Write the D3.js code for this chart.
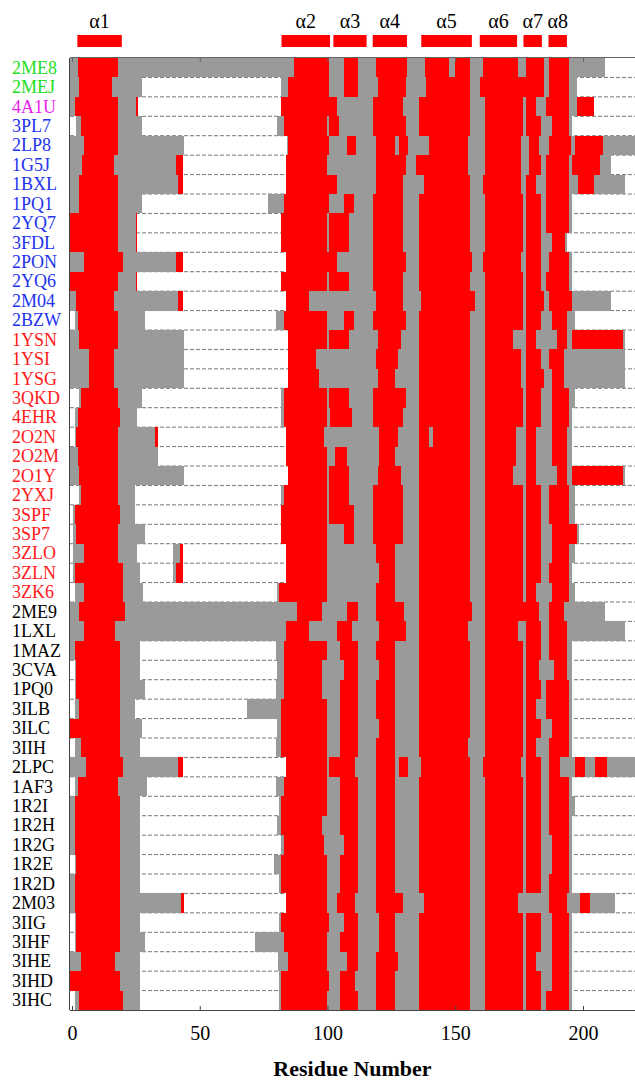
<!DOCTYPE html>
<html>
<head>
<meta charset="utf-8">
<script src="https://cdn.jsdelivr.net/npm/d3@7"></script>
<style>
body { margin: 0; background: #fff; }
svg text { font-family: "Liberation Serif", "DejaVu Serif", serif; }
</style>
</head>
<body>
<svg id="chart" width="635" height="1081"></svg>
<script>
// PDB entries, top to bottom
const pdbIds = ["2ME8","2MEJ","4A1U","3PL7","2LP8","1G5J","1BXL","1PQ1","2YQ7","3FDL",
  "2PON","2YQ6","2M04","2BZW","1YSN","1YSI","1YSG","3QKD","4EHR","2O2N",
  "2O2M","2O1Y","2YXJ","3SPF","3SP7","3ZLO","3ZLN","3ZK6","2ME9","1LXL",
  "1MAZ","3CVA","1PQ0","3ILB","3ILC","3IIH","2LPC","1AF3","1R2I","1R2H",
  "1R2G","1R2E","1R2D","2M03","3IIG","3IHF","3IHE","3IHD","3IHC"];

// label colour group of each entry (g green, m magenta, b blue, r red, k black)
const idGroups = ["g","g","m","b","b","b","b","b","b","b",
  "b","b","b","b","r","r","r","r","r","r",
  "r","r","r","r","r","r","r","r","k","k",
  "k","k","k","k","k","k","k","k","k","k",
  "k","k","k","k","k","k","k","k","k"];

// secondary structure per entry: type letter + residue where it starts
// r = helix, g = coil, w = not present; each runs until the next one
const segments = [
  "g-1 r2.5 g18 r87 g100.5 r106.5 g112 r119 g131 r138 g147.7 r149.8 g155.7 r161 g174.7 r177.8 g184.6 r186.8 g194.7 w208.7",
  "g-1 r2.9 g15.5 w27.4 g81.7 r84.7 g100.5 r106.6 g111.8 r119.7 g130.8 r138.7 g155.7 r159.6 g184.6 r186.8 g194.7 w197.6",
  "g-1 r1 g18 r25 w25.8 r81.7 g103.7 r117.7 g129.5 r135.9 g155.7 r161.7 g176.7 r177.8 g181.8 r185.7 g194.7 r197.6 w204.4",
  "w-1 g1.7 r3.6 g18 w27.4 g80.4 r82.8 g99.9 r100.6 g104.5 r117.7 g130.8 r135.9 g155.7 r161.7 g176.7 r177.8 g183.7 r187.8 g194.7 w195.5",
  "g-1 r4.8 g18 w43.7 g84 r84.7 g100.5 r107.7 g111.3 r118.8 g126.4 r128 g131.4 r139.8 g154.9 r161.7 g175.8 r179 g182.6 r186.8 g195.3 r196.8 g208",
  "g-1 r4 g16.6 r40.9 w43.5 r83.9 g99.9 r118.8 g130.8 r134.8 g154.9 r161.7 g175.8 r179 g183.7 r185.7 g194.7 r195.7 g206.6 w210.8",
  "g-1 r2.9 g18 r41.6 w43.5 r83.9 g103.7 r118.8 g129.5 r137.8 g155.7 r160.9 g175.8 r177.8 g181.8 r185.7 g194.7 r198 g204.4 w216.6",
  "g-1 r2.9 g18 w27.4 g76.8 r82.8 g100.5 r106.6 g110.5 r117.7 g129.5 r135.9 g155.7 r161.7 g176.7 r177.8 g183.7 r185.7 g194.7 w195.5",
  "r-1 g18 r25 w25.5 r81.7 g99.9 r100.7 g108.6 r117.7 g129.5 r135.9 g155.7 r161.7 g176.7 r177.8 g183.7 r185.7 g194.7 w195.5",
  "r-1 g18 r25 w25.5 r81.7 g99.9 r100.7 g108.6 r117.7 g129.5 r135.9 g155.7 r161.7 g176.7 r177.8 g183.7 r187.8 g192.9 w193.7",
  "g-1 r4.8 g19.8 r40.9 w43.5 r83.9 g103.7 r117.7 g130.8 r135.9 g156.5 r160.9 g175.8 r177.8 g183.7 r186.8 g194.7 w195.5",
  "r-1 g18 r25 w25.5 r81.7 g99.9 r100.7 g108.6 r117.7 g129.5 r135.9 g155.7 r161.7 g176.7 r177.8 g183.7 r185.7 g194.7 w195.5",
  "g-1 r1.7 g16.6 r41.6 w43.5 r83.9 g92.8 r118.8 g129.5 r136.7 g157.8 r161.7 g176.7 r177.8 g184.6 r186.8 g195.5 w210.8",
  "w-1 g1 r2.5 g18 w28.5 g80 r82.8 g99.9 r106.6 g110.5 r117.7 g130.8 r135.9 g155.7 r161.7 g176.7 r177.8 g183.7 r187.8 g193.7 w196.8",
  "g-1 r2.9 g18 w43.7 r84.4 g99.9 r100.7 g108.6 r119.7 g128.7 r135.9 g155.7 r161.7 g172.7 r177.8 g181.8 r189.7 g193.7 r195.7 g215.5 w216.6",
  "g-1 r6.8 g16.6 w43.7 r84.4 g95.5 r118.8 g127.6 r135.9 g155.7 r161.7 g175.8 r177.8 g183.7 r186.8 g192.5 w216.6",
  "g-1 r6.8 g16.6 w43.7 r84.4 g96.6 r119.7 g126.4 r135.9 g155.7 r161.7 g175.8 r177.8 g184.6 r187.8 g192.5 w216.6",
  "w-1 g2.9 r3.6 g18 w27.4 g81.7 r82.8 g99.9 r100.7 g108.6 r117.7 g130.8 r135.9 g155.7 r161.7 g176.7 r177.8 g183.7 r187.8 g194.7 w196.8",
  "w-1 g1 r2.5 g18.7 w25.5 g81.7 r82.8 g99.9 r101 g109.7 r117.7 g129.5 r135.9 g155.7 r161.7 g176.7 r177.8 g183.7 r187.8 g194.7 w195.5",
  "w-1 g1 r1.7 g18 r32.6 w33.7 r83.9 g98.7 r120 g127.6 r135.9 g139.8 r141.1 g155.7 r161.7 g173.9 r177.8 g181.8 r187.8 g193.7 w195.5",
  "g-1 r2.5 g18 w33.7 r83.9 g99.9 r102.9 g107.7 r120 g126.4 r135.9 g155.7 r161.7 g173.9 r177.8 g181.8 r187.8 g193.7 w195.5",
  "g-1 r2.9 g18 w43.7 r84.4 g99.9 r100.7 g108.6 r119.7 g128.7 r135.9 g155.7 r161.7 g172.7 r177.8 g181.8 r189.7 g193.7 r195.7 g215.5 w216.6",
  "w-1 g2.9 r3.6 g18 w24.7 g81.7 r82.8 g99.9 r100.7 g108.6 r117.7 g129.5 r135.9 g155.7 r161.7 g176.7 r177.8 g183.7 r186.8 g194.7 w196.8",
  "w-1 g0.2 r1 g18.7 w24.7 r81.7 g99.9 r100.7 g110.5 r117.7 g129.5 r135.9 g155.7 r161.7 g176.7 r177.8 g183.7 r186.8 g194.7 w196.8",
  "w-1 g0.2 r1.7 g18 w28.5 r81.7 g99.9 r106.6 g110.5 r117.7 g129.5 r135.9 g155.7 r161.7 g176.7 r177.8 g183.7 r187.8 g197.6 w198.4",
  "w-1 g0.5 r4.8 g18 w25.5 g39.7 r42.4 w43.5 r83.9 g99.9 r118.8 g126.4 r135.9 g155.7 r161.7 g176.7 r177.8 g183.7 r187.8 g194.7 w196.8",
  "w-1 g0.2 r1 g19.8 w26.6 g39.7 r40.9 w43.5 r83.9 g99.9 r120 g126.4 r135.9 g155.7 r161.7 g176.7 r177.8 g183.7 r186.8 g194.7 w195.5",
  "w-1 g1 r4.8 g19.8 w27.7 g80.4 r81.2 g99.9 r118.8 g126.4 r135.9 g155.7 r161.7 g176.7 r177.8 g181.8 r187.8 g194.7 w196.8",
  "g-1 r2.9 g20.7 r87.9 g97.9 r107.7 g111.8 r118.8 g129.8 r135.9 g156.5 r161.7 g182.6 r186.8 g192.5 w208.7",
  "g-1 r4.8 g16.8 r83.9 g92.8 r103.7 g109.7 r120 g130.8 r135.9 g154.9 r161.7 g174.7 r177.8 g183.7 r186.8 g193.7 w216.6",
  "g-1 r1 g18.7 w26.6 g80 r82.8 g99.9 r104.7 g111.8 r118.8 g126.4 r135.9 g155.7 r161.7 g176.7 r177.8 g183.7 r186.8 g193.7 w195.5",
  "w-1 g1 r1.7 g18.7 w26.6 g80.4 r82.8 g97.9 r106.6 g111.8 r120 g126.4 r135.9 g155.7 r161.7 g176.7 r177.8 g182.6 r188.6 g193.7 w195.5",
  "w-1 g1 r1.7 g18.7 w28.5 g79.7 r82.8 g97.9 r104.7 g111.8 r118.8 g126.4 r135.9 g155.7 r161.7 g176.7 r177.8 g183.7 r185.7 g194.7 w195.5",
  "w-1 g1 r2.9 g18.7 w24.7 g68.6 r81.7 g99.9 r104.7 g111.8 r118.8 g126.4 r135.9 g155.7 r161.7 g176.7 r177.8 g181.8 r185.7 g194.7 w195.5",
  "r-1 g18.7 w27.4 g80.4 r81.7 g99.9 r104.7 g111.8 r120 g126.4 r135.9 g155.7 r161.7 g176.7 r177.8 g183.7 r187.8 g194.7 w195.5",
  "w-1 g1 r3.6 g18.7 w26.6 g80 r81.7 g99.9 r104.7 g111.8 r118.8 g126.4 r135.9 g154.9 r161.7 g176.7 r177.8 g181.8 r186.8 g194.7 w195.5",
  "g-1 r5.5 g19.8 r41.6 w43.5 r83.9 g99.9 r100.7 g110.8 r118.8 g126.4 r128 g131.4 r136.7 g155.7 r160.9 g175.8 r177.8 g183.7 r186.8 g190.9 r196.8 g200.8 r204.7 g209.5",
  "w-1 g1 r2.5 g18 w29.5 g80 r82.8 g99.9 r104.7 g111.8 r118.8 g126.4 r135.9 g155.7 r161.7 g176.7 r177.8 g183.7 r186.8 g194.7 w195.5",
  "g-1 r1 g18.7 w26.6 g81.2 r81.7 g99.9 r104.7 g111.8 r118.8 g126.4 r135.9 g155.7 r161.7 g176.7 r177.8 g183.7 r186.8 g194.7 w196.8",
  "g-1 r1 g18.7 w26.6 g80.4 r81.7 g97.9 r104.7 g111.8 r118.8 g126.4 r135.9 g155.7 r161.7 g176.7 r177.8 g183.7 r186.8 g194.7 w195.5",
  "g-1 r1 g18.7 w26.6 g81.7 r82.8 g98.7 r106.6 g111.8 r118.8 g126.4 r135.9 g155.7 r161.7 g176.7 r177.8 g183.7 r187.8 g194.7 w195.5",
  "w-1 g1 r1.7 g18.7 w26.6 g78.9 r81.7 g99.9 r104.7 g111.8 r118.8 g126.4 r135.9 g155.7 r161.7 g176.7 r177.8 g183.7 r187.8 g194.7 w195.5",
  "g-1 r1 g18.7 w26.6 g80.9 r81.7 g99.9 r104.7 g111.8 r118.8 g126.4 r135.9 g155.7 r161.7 g176.7 r177.8 g183.7 r186.8 g194.7 w195.5",
  "g-1 r1 g18.7 r42.8 w43.7 r83.9 g99.9 r103.7 g110.8 r118.8 g129.5 r137.8 g155.7 r161.7 g174.7 r186.8 g193.7 r198.7 g202.7 w212.7",
  "w-1 g1 r1.7 g18.7 w26.6 g80.9 r81.7 g100.7 r106.6 g111.8 r120 g126.4 r135.9 g155.7 r161.7 g176.7 r177.8 g183.7 r187.8 g194.7 w195.5",
  "w-1 g1 r1.7 g18.7 w28.5 g71.7 r82.8 g99.9 r104.7 g111.8 r120 g126.4 r135.9 g155.7 r161.7 g176.7 r177.8 g183.7 r187.8 g194.7 w195.5",
  "g-1 r3.6 g16.8 w26.6 g80.8 r84.7 g99.9 r107.7 g111.8 r118.8 g127.6 r135.9 g155.7 r161.7 g176.7 r177.8 g181.8 r187.8 g194.7 w195.5",
  "r-1 g18.7 w26.6 g81.2 r81.7 g100.7 r104.7 g110.8 r118.8 g126.4 r135.9 g155.7 r161.7 g176.7 r177.8 g183.7 r187.8 g194.7 w195.5",
  "w-1 g1 r2.9 g19.8 w26.6 g81.2 r81.7 g99.9 r104.7 g111.8 r118.8 g126.4 r135.9 g155.7 r161.7 g176.7 r177.8 g183.7 r185.7 g194.7 w195.5"
];

// reference helices drawn above the plot
const helixNames = ["α1","α2","α3","α4","α5","α6","α7","α8"];
const helixStart = [2.1, 82, 102.3, 117.7, 136.7, 159.6, 176.7, 186.5];
const helixEnd   = [19.5, 101, 115.3, 131.1, 156.5, 174.2, 183.9, 193.7];

const xTicks = [0, 50, 100, 150, 200];
const xMax = 221;

let width = 635,
    height = 1081,
    plotLeft = 70,
    plotTop = 58,
    plotBottom = 1010;

const groupColor = {g: "#22dd22", m: "#ee22ee", b: "#2233ee", r: "#ff1a1a", k: "#000000"};
const typeColor = {r: "#ff0000", g: "#9a9a9a"};

let svg = d3.select("#chart");

let xScale = d3.scaleLinear()
    .domain([0, 200])
    .range([72, 583]);

let yScale = d3.scaleBand()
    .domain(pdbIds)
    .range([plotTop, plotBottom]);

svg.append("defs").append("clipPath").attr("id", "plotClip")
    .append("rect")
    .attr("x", plotLeft).attr("y", plotTop)
    .attr("width", width - plotLeft).attr("height", plotBottom - plotTop);

let plot = svg.append("g").attr("clip-path", "url(#plotClip)");

// dashed separators between rows (only seen where nothing is drawn)
plot.selectAll("line.sep")
    .data(pdbIds.slice(1))
    .enter().append("line")
    .attr("class", "sep")
    .attr("x1", plotLeft).attr("x2", width)
    .attr("y1", d => yScale(d)).attr("y2", d => yScale(d))
    .attr("stroke", "#777")
    .attr("stroke-width", 1)
    .attr("stroke-dasharray", "4,2");

function parseRow(str) {
    let toks = str.trim().split(/\s+/).map(t => ({type: t[0], start: +t.slice(1)}));
    return toks.map((t, i) => ({
        type: t.type,
        start: t.start,
        end: i < toks.length - 1 ? toks[i + 1].start : xMax
    }));
}

let rows = pdbIds.map((id, i) => ({id: id, segs: parseRow(segments[i])}));

let rowG = plot.selectAll("g.row")
    .data(rows)
    .enter().append("g")
    .attr("class", "row")
    .attr("transform", d => "translate(0," + yScale(d.id) + ")");

rowG.selectAll("rect")
    .data(d => d.segs.filter(s => s.type !== "w"))
    .enter().append("rect")
    .attr("x", d => xScale(d.start))
    .attr("width", d => xScale(d.end) - xScale(d.start))
    .attr("y", 0)
    .attr("height", yScale.bandwidth())
    .attr("fill", d => typeColor[d.type])
    .attr("shape-rendering", "crispEdges");

// row labels, left aligned
svg.selectAll("text.pdb")
    .data(pdbIds)
    .enter().append("text")
    .attr("class", "pdb")
    .attr("x", 12)
    .attr("y", d => yScale(d) + yScale.bandwidth() / 2 + 6)
    .attr("font-size", 18)
    .attr("fill", (d, i) => groupColor[idGroups[i]])
    .text(d => d);

// helix bars on top
let helices = helixNames.map((n, i) => ({name: n, s: helixStart[i], e: helixEnd[i]}));
svg.selectAll("rect.helix")
    .data(helices)
    .enter().append("rect")
    .attr("class", "helix")
    .attr("x", d => xScale(d.s))
    .attr("width", d => xScale(d.e) - xScale(d.s))
    .attr("y", 35)
    .attr("height", 12)
    .attr("fill", "#ff0000");
svg.selectAll("text.helix")
    .data(helices)
    .enter().append("text")
    .attr("class", "helix")
    .attr("x", d => xScale((d.s + d.e) / 2))
    .attr("y", 28)
    .attr("text-anchor", "middle")
    .attr("font-size", 20)
    .text(d => d.name);

// axes: bottom with labels, top with ticks only, left as plain line
let xAxis = d3.axisBottom(xScale)
    .tickValues(xTicks)
    .tickSizeInner(-4)
    .tickSizeOuter(0)
    .tickPadding(16);
let xg = svg.append("g")
    .attr("transform", "translate(0," + plotBottom + ")")
    .call(xAxis);
xg.select(".domain").attr("d", "M" + plotLeft + ",0.5H" + width).attr("stroke", "#444");
xg.selectAll(".tick line").attr("stroke", "#444");
xg.selectAll("text")
    .attr("font-family", "Liberation Serif, serif")
    .attr("font-size", 20)
    .attr("fill", "#000");

let topAxis = d3.axisTop(xScale)
    .tickValues(xTicks)
    .tickSizeInner(-4)
    .tickSizeOuter(0)
    .tickFormat("");
let tg = svg.append("g")
    .attr("transform", "translate(0," + plotTop + ")")
    .call(topAxis);
tg.select(".domain").attr("d", "M" + plotLeft + ",-0.5H" + width).attr("stroke", "#666");
tg.selectAll(".tick line").attr("stroke", "#666");

svg.append("line")
    .attr("x1", plotLeft - 0.5).attr("x2", plotLeft - 0.5)
    .attr("y1", plotTop).attr("y2", plotBottom)
    .attr("stroke", "#444");

svg.append("text")
    .attr("x", (plotLeft + width) / 2)
    .attr("y", 1076)
    .attr("text-anchor", "middle")
    .attr("font-size", 22)
    .attr("font-weight", "bold")
    .text("Residue Number");
</script>
</body>
</html>
